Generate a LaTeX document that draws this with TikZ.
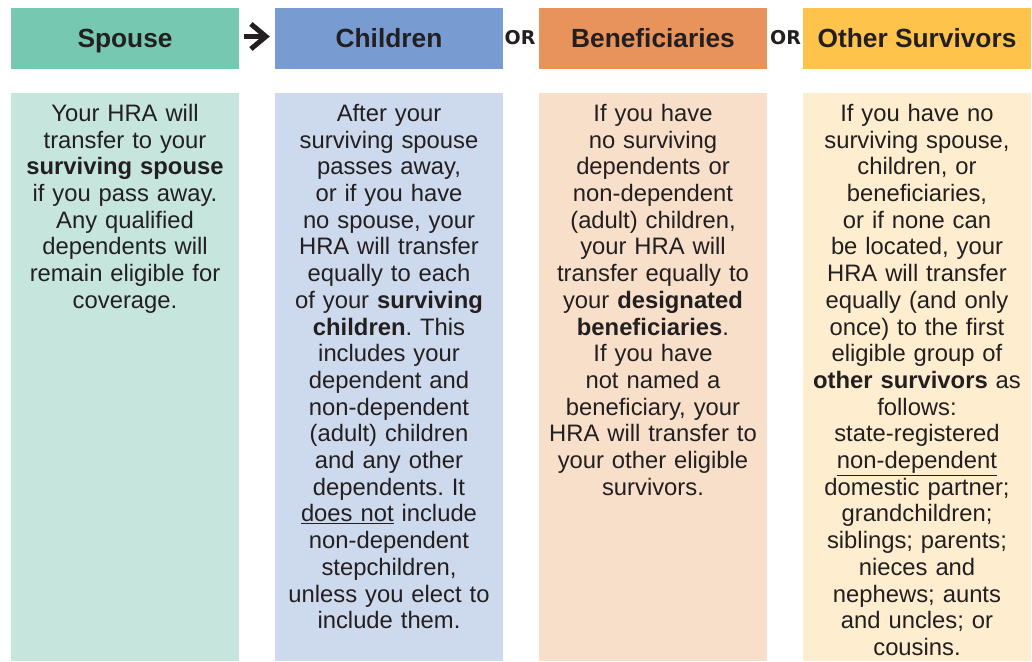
\documentclass[tikz,border=0pt]{standalone}
\usepackage{fontspec}
\setmainfont{Liberation Sans}
\newfontfamily\orfont{DejaVu Sans}
\usetikzlibrary{arrows.meta}
\frenchspacing
\definecolor{txt}{HTML}{231F20}
\definecolor{spH}{HTML}{76C9B0}
\definecolor{spB}{HTML}{C6E6DD}
\definecolor{chH}{HTML}{789CD2}
\definecolor{chB}{HTML}{CDD9EC}
\definecolor{beH}{HTML}{E8935B}
\definecolor{beB}{HTML}{F8DFCA}
\definecolor{otH}{HTML}{FEC34B}
\definecolor{otB}{HTML}{FEEECF}
\begin{document}
\begin{tikzpicture}[x=1pt,y=-1pt,
  hdr/.style={minimum width=228pt, minimum height=61pt, inner sep=0pt,
    text height=18.8pt, text depth=0pt,
    font=\fontsize{26.3}{30}\selectfont\bfseries, text=txt},
  bodybox/.style={minimum width=228pt, minimum height=568pt, inner sep=0pt, anchor=north},
  bodytext/.style={anchor=north, align=center, text width=228pt, inner sep=0pt,
    font=\fontsize{23.8}{26.7}\selectfont, text=txt},
  orlabel/.style={font=\orfont\bfseries\fontsize{19}{21}\selectfont, text=txt, inner sep=0pt},
  arrowline/.style={line width=5pt, draw=txt, shorten <=5pt, shorten >=5pt,
    -{Straight Barb[length=15pt,width=25pt,line width=5pt]}}
]
\useasboundingbox (0,0) rectangle (1032,661);
% headers
\node[hdr, fill=spH] (sh) at (125,38.5) {Spouse};
\node[hdr, fill=chH] (ch) at (389,38.5) {Children};
\node[hdr, fill=beH] (bh) at (653,38.5) {Beneficiaries};
\node[hdr, fill=otH] (oh) at (917,38.5) {Other Survivors};
% connectors
\draw[arrowline] ([yshift=2pt]sh.east) -- ([yshift=2pt]ch.west);
\node[orlabel] (or1) at (520,37.5) {OR};
\node[orlabel] (or2) at (785.5,37.5) {OR};
% body boxes
\node[bodybox, fill=spB] (sb) at (125,93) {};
\node[bodybox, fill=chB] (cb) at (389,93) {};
\node[bodybox, fill=beB] (bb) at (653,93) {};
\node[bodybox, fill=otB] (ob) at (917,93) {};
% body texts
\node[bodytext] (st) at (125,104) {Your HRA will\\transfer to your\\\textbf{surviving spouse}\\if you pass away.\\Any qualified\\dependents will\\remain eligible for\\coverage.};
\node[bodytext] (ct) at (389,104) {After your\\surviving spouse\\passes away,\\or if you have\\no spouse, your\\HRA will transfer\\equally to each\\of your \textbf{surviving}\\\textbf{children}. This\\includes your\\dependent and\\non-dependent\\(adult) children\\and any other\\dependents. It\\\underline{does not} include\\non-dependent\\stepchildren,\\unless you elect to\\include them.};
\node[bodytext] (bt) at (653,104) {If you have\\no surviving\\dependents or\\non-dependent\\(adult) children,\\your HRA will\\transfer equally to\\your \textbf{designated}\\\textbf{beneficiaries}.\\If you have\\not named a\\beneficiary, your\\HRA will transfer to\\your other eligible\\survivors.};
\node[bodytext] (ot) at (917,104) {If you have no\\surviving spouse,\\children, or\\beneficiaries,\\or if none can\\be located, your\\HRA will transfer\\equally (and only\\once) to the first\\eligible group of\\\textbf{other survivors} as\\follows:\\state-registered\\\underline{non-dependent}\\domestic partner;\\grandchildren;\\siblings; parents;\\nieces and\\nephews; aunts\\and uncles; or\\cousins.};
\end{tikzpicture}
\end{document}
